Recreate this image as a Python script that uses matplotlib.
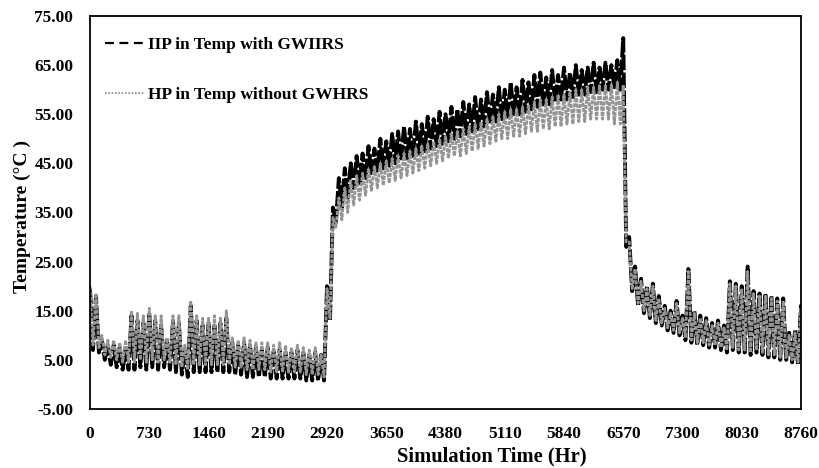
import numpy as np
import matplotlib.pyplot as plt
from matplotlib.lines import Line2D

plt.rcParams['font.family'] = ['Liberation Serif', 'DejaVu Serif']
plt.rcParams['font.weight'] = 'bold'

# sampling every 73 hr: upper and lower value of the daily swing
hours = np.arange(0, 8761, 73)

with_hi = [19.5, 18, 9, 8, 8, 7.5, 7, 14, 13, 12.5,
           14.5, 13, 12, 9, 13, 12.5, 7, 16, 13, 12,
           12.5, 12, 12.5, 13.5, 8.5, 8, 8.5, 8, 7.5, 7,
           7.5, 7, 7, 6.5, 6.5, 7, 6.5, 6, 6.5, 6,
           20,
           36, 42, 44, 45, 46.5, 47, 48.5, 48, 50, 49.5,
           51, 51.5, 52.5, 52, 53.5, 53, 54.5, 54, 55.5, 55,
           56.5, 56, 57.5, 57, 58.5, 58, 59.5, 59, 60.5, 60,
           61.5, 60.5, 62, 61.5, 63, 63.5, 62.5, 64, 63, 64.5,
           63.5, 65, 64, 64.5, 65.5, 64.5, 65.5, 65, 66,
           70.5, 30, 24, 21.5, 20, 20.5, 18, 16, 15, 17,
           14, 23.5, 15, 14, 13.5, 12.5, 13, 12, 21, 20.5,
           20, 24, 19, 18.5, 18.5, 18, 17.5, 17.5, 10.5, 11,
           16]
with_lo = [7, 6.5, 5, 4, 3.5, 3, 3, 3, 3.5, 3,
           3.5, 3, 3.5, 3, 2.5, 2, 1.5, 2.5, 2.5, 2.5,
           2.5, 2.5, 2.5, 2.5, 2, 2, 1.5, 1.5, 1.5, 1.5,
           1.2, 1.2, 1.2, 1.2, 1.2, 1.2, 0.8, 0.8, 0.8, 0.8,
           13,
           33, 36, 38, 40, 41, 42, 43, 43.5, 44, 44.5,
           45, 45.5, 46, 46.5, 47, 47.5, 48, 48.5, 49, 49.5,
           50, 50.5, 51, 51.5, 52, 52.5, 53, 53.5, 54, 54.5,
           55, 55, 55.5, 56, 56.5, 57, 57, 57.5, 58, 58,
           58.5, 59, 59, 59.5, 59.5, 60, 60, 60.5, 60,
           28, 19, 16, 14.5, 13.5, 12.5, 12, 11, 10.5, 10,
           9, 8.5, 8, 8, 7.5, 7.5, 7, 6.5, 7, 6.5,
           6.5, 6, 6.5, 6, 5.5, 5.5, 5, 5, 4.5, 4,
           4.5]
without_hi = [20, 18.5, 10, 9, 9, 8.5, 9, 15, 14.5, 14,
              15.5, 14, 14, 9.5, 14, 14, 8, 17, 14, 13.5,
              13.5, 14, 13.5, 15, 9.5, 9, 9.5, 9, 8.5, 8.5,
              8.5, 8, 8.5, 8, 7.5, 8, 7.5, 7, 7.5, 6,
              19.5,
              34, 38, 40, 41.5, 42.5, 43, 44, 44.5, 45, 45.5,
              46, 46.5, 47, 47.5, 48, 48.5, 49, 49.5, 50, 50.5,
              51, 51.5, 52, 52.5, 53, 53.5, 54, 54.5, 55, 55.5,
              56, 56, 56.5, 57, 57.5, 58, 58, 58.5, 59, 59,
              59.5, 60, 60, 60.5, 60.5, 61, 61, 61, 61.5,
              61, 29, 23.5, 21, 19.5, 20, 17.5, 15.5, 14.5, 16.5,
              13.5, 23, 14.5, 13.5, 13, 12, 12.5, 11.5, 20.5, 20,
              19.5, 23, 18.5, 18, 18, 17.5, 17, 17, 10, 10.5,
              15.5]
without_lo = [8, 7.5, 6, 5.5, 5, 4.5, 4.5, 4.5, 5, 4.5,
              5, 4.5, 5, 4.5, 4, 3.5, 3, 4, 4, 4,
              4, 4, 4, 4, 3.5, 3.5, 3, 3, 3, 3,
              2.5, 2.5, 2.5, 2.5, 2.5, 2.5, 2, 2, 2, 1.5,
              13.5,
              32, 33.5, 35, 36.5, 37.5, 38.5, 39.5, 40, 40.5, 41,
              41.5, 42, 42.5, 43, 43.5, 44, 44.5, 45, 45.5, 46,
              46.5, 46.5, 47, 47.5, 48, 48.5, 49, 49.5, 50, 50,
              50.5, 50.5, 51, 51.5, 51.5, 52, 52, 52.5, 52.5, 53,
              53, 53.5, 53.5, 54, 54, 54, 54, 53, 53,
              29, 19.5, 16.5, 15, 14, 13, 12.5, 11.5, 11, 10.5,
              9.5, 9, 8.5, 8.5, 8, 8, 7.5, 7, 7.5, 7,
              7, 6.5, 7, 6.5, 6, 6, 5.5, 5.5, 5, 4.5,
              5]

x_ticks = np.arange(0, 8761, 730)
y_ticks = np.arange(-5, 76, 10)


def zigzag(hi, lo):
    # high value at the sample hour, low value half a step later
    x = np.column_stack([hours, hours + 36.5]).ravel()
    y = np.column_stack([hi, lo]).ravel()
    return x, y


fig = plt.figure(figsize=(8.2, 4.68), dpi=100)
ax = fig.add_axes([0.1098, 0.1261, 0.867, 0.8397])

x1, y1 = zigzag(with_hi, with_lo)
x2, y2 = zigzag(without_hi, without_lo)
ax.plot(x1, y1, color='black', lw=2.8, ls=(0, (4, 0.6)))
ax.plot(x2, y2, color='#949494', lw=2.0, ls=(0, (1.5, 0.4)))

ax.set_xlim(0, 8760)
ax.set_ylim(-5, 75)
ax.set_xticks(x_ticks)
ax.set_yticks(y_ticks)
ax.set_yticklabels([f'{v:.2f}' for v in y_ticks])
ax.tick_params(length=0, labelsize=12.5, pad=12)
for s in ax.spines.values():
    s.set_linewidth(1.3)

ax.set_xlabel('Simulation Time (Hr)', fontsize=14.8, fontweight='bold')
ax.xaxis.set_label_coords(0.565, -0.095)
ax.set_ylabel('Temperature (°C )', fontsize=14, fontweight='bold')
ax.yaxis.set_label_coords(-0.083, 0.49)

handles = [Line2D([], [], color='black', lw=1.6, ls=(0, (4, 2.5))),
           Line2D([], [], color='#8a8a8a', lw=1.2, ls=(0, (1, 1)))]
ax.legend(handles, ['IIP in Temp with GWIIRS', 'HP in Temp without GWHRS'],
          loc='upper left', frameon=False, fontsize=12.5, handlelength=2.3,
          labelspacing=1.95, borderaxespad=0.3, borderpad=0.55, handletextpad=0.2,
          bbox_to_anchor=(0.0, 0.985))

fig.savefig('out.png', dpi=100)
